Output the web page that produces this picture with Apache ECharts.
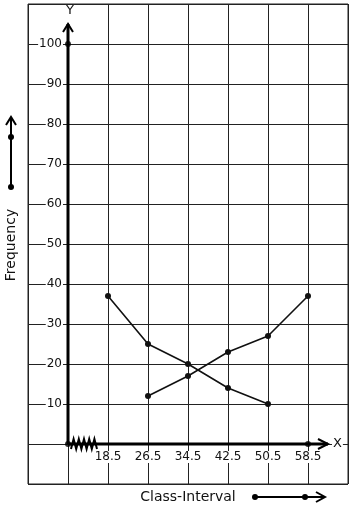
<!DOCTYPE html>
<html>
<head>
<meta charset="utf-8">
<script src="https://cdn.jsdelivr.net/npm/echarts@6/dist/echarts.min.js"></script>
<style>
  html, body { margin: 0; padding: 0; background: #fff; }
  #main { width: 353px; height: 510px; }
</style>
</head>
<body>
<div id="main"></div>
<script>
// class marks (x) and the two frequency polygons
var classMarks = [18.5, 26.5, 34.5, 42.5, 50.5, 58.5];
var freqFalling = [37, 25, 20, 14, 10];   // 18.5 .. 50.5
var freqRising = [12, 17, 23, 27, 37];    // 26.5 .. 58.5

// axis ranges / labels
var xMin = 2.5, xMax = 66.5, xStep = 8;
var yMin = -10, yMax = 110, yStep = 10;
var yLabels = [10, 20, 30, 40, 50, 60, 70, 80, 90, 100];
var origin = 10.5;
var yArrowTop = 105;
var xArrowEnd = 62.5;
var axisDots = [[10.5, 0], [10.5, 100], [58.5, 0]];

var fallingData = freqFalling.map(function (v, i) { return [classMarks[i], v]; });
var risingData = freqRising.map(function (v, i) { return [classMarks[i + 1], v]; });

var FONT = 'DejaVu Sans';
var INK = '#111';

var chartDom = document.getElementById('main');
var myChart = echarts.init(chartDom, null, { renderer: 'canvas' });

var option = {
  animation: false,
  backgroundColor: '#fff',
  textStyle: { fontFamily: FONT },
  grid: {
    left: 28, right: 5, top: 4, bottom: 26,
    outerBoundsMode: 'none',
    show: true, borderColor: '#222', borderWidth: 1
  },
  xAxis: {
    type: 'value',
    min: xMin, max: xMax, interval: xStep,
    offset: -40,   // sit on y = 0
    name: 'X',
    nameLocation: 'end',
    nameGap: -16,
    nameTextStyle: { fontFamily: FONT, fontSize: 13, color: INK, backgroundColor: '#fff', padding: [0, 1] },
    axisLine: { show: false, onZero: false },
    axisTick: { show: false },
    splitLine: { show: true, lineStyle: { color: '#222', width: 1 } },
    axisLabel: {
      margin: 7,
      fontFamily: FONT, fontSize: 12, color: INK,
      backgroundColor: '#fff', padding: [0, 1],
      formatter: function (v) {
        return classMarks.indexOf(v) >= 0 ? v.toFixed(1) : '';
      }
    }
  },
  yAxis: {
    type: 'value',
    min: yMin, max: yMax, interval: yStep,
    offset: -40,   // sit on x = 10.5
    axisLine: { show: false, onZero: false },
    axisTick: { show: false },
    splitLine: { show: true, lineStyle: { color: '#222', width: 1 } },
    axisLabel: {
      margin: 5,
      fontFamily: FONT, fontSize: 12, color: INK,
      backgroundColor: '#fff', padding: [0, 1],
      formatter: function (v) {
        return yLabels.indexOf(v) >= 0 ? String(v) : '';
      }
    }
  },
  series: [
    {
      name: 'falling',
      type: 'line',
      data: fallingData,
      symbol: 'circle', symbolSize: 6,
      itemStyle: { color: INK },
      lineStyle: { color: INK, width: 1.6 },
      z: 5
    },
    {
      name: 'rising',
      type: 'line',
      data: risingData,
      symbol: 'circle', symbolSize: 6,
      itemStyle: { color: INK },
      lineStyle: { color: INK, width: 1.6 },
      z: 5
    },
    {
      // Y axis line
      type: 'line',
      data: [[origin, 0], [origin, yArrowTop]],
      symbol: 'none',
      lineStyle: { color: '#000', width: 3 },
      silent: true, z: 4
    },
    {
      // X axis line
      type: 'line',
      data: [[origin, 0], [xArrowEnd, 0]],
      symbol: 'none',
      lineStyle: { color: '#000', width: 3 },
      silent: true, z: 4
    },
    {
      type: 'scatter',
      data: axisDots,
      symbol: 'circle', symbolSize: 6,
      itemStyle: { color: '#000' },
      silent: true, z: 6
    }
  ]
};

option && myChart.setOption(option);

// decorations: arrow heads, axis break, side labels
var yTip = myChart.convertToPixel({ gridIndex: 0 }, [origin, yArrowTop]);
var xTip = myChart.convertToPixel({ gridIndex: 0 }, [xArrowEnd, 0]);
var o = myChart.convertToPixel({ gridIndex: 0 }, [origin, 0]);

function chevron(points) {
  return {
    type: 'polyline',
    shape: { points: points },
    style: { stroke: '#000', lineWidth: 2, fill: null },
    z: 10
  };
}
function dot(x, y) {
  return { type: 'circle', shape: { cx: x, cy: y, r: 3 }, style: { fill: '#000' }, z: 10 };
}

var zig = [];
for (var i = 0; i <= 10; i++) {
  zig.push([o[0] + 3 + i * 2.6, o[1] + (i % 2 === 0 ? 5 : -5)]);
}

myChart.setOption({
  graphic: [
    // clear the grid line above the Y arrow
    { type: 'rect', shape: { x: yTip[0] - 5, y: 5, width: 10, height: yTip[1] - 6 }, style: { fill: '#fff' }, z: 9 },
    chevron([[yTip[0] - 5, yTip[1] + 8], [yTip[0], yTip[1]], [yTip[0] + 5, yTip[1] + 8]]),
    chevron([[xTip[0] - 10, xTip[1] - 5], [xTip[0], xTip[1]], [xTip[0] - 10, xTip[1] + 5]]),
    {
      type: 'text',
      x: yTip[0] + 2, y: 11,
      style: { text: 'Y', font: '13px "DejaVu Sans"', fill: INK, align: 'center', verticalAlign: 'middle' },
      z: 10
    },
    {
      type: 'polyline',
      shape: { points: zig },
      style: { stroke: '#000', lineWidth: 2, fill: null },
      z: 10
    },
    // Frequency label + arrow
    {
      type: 'text',
      x: 11, y: 245,
      rotation: Math.PI / 2,
      style: { text: 'Frequency', font: '14px "DejaVu Sans"', fill: INK, align: 'center', verticalAlign: 'middle' },
      z: 10
    },
    { type: 'line', shape: { x1: 11, y1: 187, x2: 11, y2: 118 }, style: { stroke: '#000', lineWidth: 2 }, z: 10 },
    chevron([[6, 125], [11, 117], [16, 125]]),
    dot(11, 187),
    dot(11, 137),
    // Class-Interval label + arrow
    {
      type: 'text',
      x: 188, y: 497,
      style: { text: 'Class-Interval', font: '14px "DejaVu Sans"', fill: INK, align: 'center', verticalAlign: 'middle' },
      z: 10
    },
    { type: 'line', shape: { x1: 255, y1: 497, x2: 324, y2: 497 }, style: { stroke: '#000', lineWidth: 2 }, z: 10 },
    chevron([[316, 492], [325, 497], [316, 502]]),
    dot(255, 497),
    dot(305, 497)
  ]
});
</script>
</body>
</html>
